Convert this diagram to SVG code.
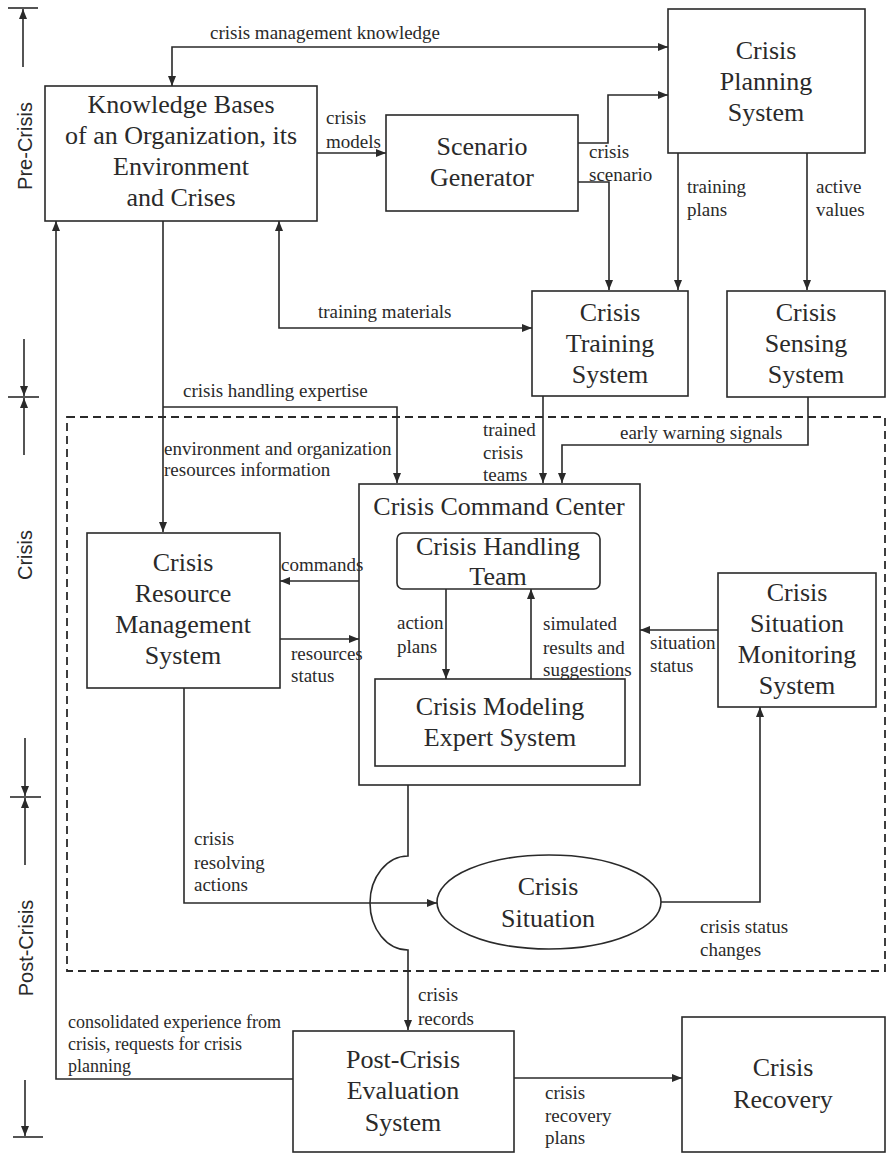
<svg xmlns="http://www.w3.org/2000/svg" width="888" height="1153" viewBox="0 0 888 1153" font-family="Liberation Serif, serif">
<defs>
<marker id="arr" viewBox="0 0 10 8" refX="10" refY="4" markerWidth="11" markerHeight="8" markerUnits="userSpaceOnUse" orient="auto-start-reverse">
<path d="M0,0 L10,4 L0,8 z" fill="#2a2a2a"/>
</marker>
</defs>
<style>
.box{fill:none;stroke:#2a2a2a;stroke-width:1.6}
.ln{fill:none;stroke:#2a2a2a;stroke-width:1.6}
.big{font-family:'Liberation Serif','DejaVu Serif',serif;font-size:26px;fill:#2a2a2a;text-anchor:middle}
.lbl{font-family:'Liberation Serif','DejaVu Serif',serif;font-size:19px;fill:#2a2a2a}
.ax{font-family:'Liberation Sans',Arial,sans-serif;font-size:20px;fill:#2a2a2a;text-anchor:middle}
.dash{fill:none;stroke:#2a2a2a;stroke-width:1.8;stroke-dasharray:8 5}
</style>
<rect width="888" height="1153" fill="#ffffff"/>

<g id="axis">
<line class="ln" x1="8" y1="8" x2="38" y2="8"/>
<line class="ln" x1="23" y1="67" x2="23" y2="9" marker-end="url(#arr)"/>
<text class="ax" transform="translate(32,146) rotate(-90)">Pre-Crisis</text>
<line class="ln" x1="8" y1="397" x2="39" y2="397"/>
<line class="ln" x1="24" y1="339" x2="24" y2="396" marker-end="url(#arr)"/>
<line class="ln" x1="24" y1="455" x2="24" y2="398" marker-end="url(#arr)"/>
<text class="ax" transform="translate(32,555) rotate(-90)">Crisis</text>
<line class="ln" x1="10" y1="797" x2="41" y2="797"/>
<line class="ln" x1="25" y1="738" x2="25" y2="796" marker-end="url(#arr)"/>
<line class="ln" x1="25" y1="865" x2="25" y2="798" marker-end="url(#arr)"/>
<text class="ax" transform="translate(33,948) rotate(-90)">Post-Crisis</text>
<line class="ln" x1="25" y1="1080" x2="25" y2="1136" marker-end="url(#arr)"/>
<line class="ln" x1="13" y1="1137" x2="43" y2="1137"/>
</g>

<rect id="crisis-phase" class="dash" x="67" y="417" width="818" height="554"/>

<g id="knowledge-bases">
<rect class="box" x="45" y="86" width="272" height="135"/>
<text class="big" x="181" y="113">Knowledge Bases</text>
<text class="big" x="181" y="144">of an Organization, its</text>
<text class="big" x="181" y="175">Environment</text>
<text class="big" x="181" y="206">and Crises</text>
</g>

<g id="scenario-generator">
<rect class="box" x="386" y="115" width="192" height="96"/>
<text class="big" x="482" y="155">Scenario</text>
<text class="big" x="482" y="186">Generator</text>
</g>

<g id="crisis-planning">
<rect class="box" x="668" y="9" width="197" height="144"/>
<text class="big" x="766" y="59">Crisis</text>
<text class="big" x="766" y="90">Planning</text>
<text class="big" x="766" y="121">System</text>
</g>

<g id="crisis-training">
<rect class="box" x="532" y="291" width="156" height="105"/>
<text class="big" x="610" y="321">Crisis</text>
<text class="big" x="610" y="352">Training</text>
<text class="big" x="610" y="383">System</text>
</g>

<g id="crisis-sensing">
<rect class="box" x="727" y="291" width="158" height="106"/>
<text class="big" x="806" y="321">Crisis</text>
<text class="big" x="806" y="352">Sensing</text>
<text class="big" x="806" y="383">System</text>
</g>

<g id="crisis-command-center">
<rect class="box" x="359" y="484" width="281" height="301"/>
<text class="big" x="499" y="515">Crisis Command Center</text>
</g>

<g id="crisis-handling-team">
<rect class="box" x="397" y="533" width="203" height="56" rx="6"/>
<text class="big" x="498" y="555">Crisis Handling</text>
<text class="big" x="498" y="585">Team</text>
</g>

<g id="crisis-modeling">
<rect class="box" x="375" y="679" width="250" height="87"/>
<text class="big" x="500" y="715">Crisis Modeling</text>
<text class="big" x="500" y="746">Expert System</text>
</g>

<g id="crisis-monitoring">
<rect class="box" x="718" y="573" width="158" height="134"/>
<text class="big" x="797" y="601">Crisis</text>
<text class="big" x="797" y="632">Situation</text>
<text class="big" x="797" y="663">Monitoring</text>
<text class="big" x="797" y="694">System</text>
</g>

<g id="crisis-resource">
<rect class="box" x="87" y="533" width="193" height="155"/>
<text class="big" x="183" y="571">Crisis</text>
<text class="big" x="183" y="602">Resource</text>
<text class="big" x="183" y="633">Management</text>
<text class="big" x="183" y="664">System</text>
</g>

<g id="crisis-situation">
<ellipse class="box" cx="549" cy="902" rx="112" ry="47"/>
<text class="big" x="548" y="895">Crisis</text>
<text class="big" x="548" y="927">Situation</text>
</g>

<g id="post-crisis-evaluation">
<rect class="box" x="293" y="1031" width="221" height="121"/>
<text class="big" x="403" y="1068">Post-Crisis</text>
<text class="big" x="403" y="1099">Evaluation</text>
<text class="big" x="403" y="1131">System</text>
</g>

<g id="crisis-recovery">
<rect class="box" x="682" y="1017" width="203" height="135"/>
<text class="big" x="783" y="1076">Crisis</text>
<text class="big" x="783" y="1108">Recovery</text>
</g>

<g id="connectors">
<path class="ln" d="M172,86 V47 H668" marker-start="url(#arr)" marker-end="url(#arr)"/>
<path class="ln" d="M317,153 H386" marker-end="url(#arr)"/>
<path class="ln" d="M578,143 H608 V95 H668" marker-end="url(#arr)"/>
<path class="ln" d="M578,182 H609 V290" marker-end="url(#arr)"/>
<path class="ln" d="M678,153 V290" marker-end="url(#arr)"/>
<path class="ln" d="M807,153 V290" marker-end="url(#arr)"/>
<path class="ln" d="M293,1079 H56 V221" marker-end="url(#arr)"/>
<path class="ln" d="M163,221 V532" marker-end="url(#arr)"/>
<path class="ln" d="M163,407 H397 V483" marker-end="url(#arr)"/>
<path class="ln" d="M279,221 V328 H532" marker-start="url(#arr)" marker-end="url(#arr)"/>
<path class="ln" d="M543,396 V483" marker-end="url(#arr)"/>
<path class="ln" d="M808,397 V445 H562 V483" marker-end="url(#arr)"/>
<path class="ln" d="M359,581 H280" marker-end="url(#arr)"/>
<path class="ln" d="M280,639 H359" marker-end="url(#arr)"/>
<path class="ln" d="M446,589 V679" marker-end="url(#arr)"/>
<path class="ln" d="M531,679 V589" marker-end="url(#arr)"/>
<path class="ln" d="M718,630 H640" marker-end="url(#arr)"/>
<path class="ln" d="M184,688 V903 H437" marker-end="url(#arr)"/>
<path class="ln" d="M661,902 H760 V707" marker-end="url(#arr)"/>
<path class="ln" d="M408,785 V856 A38,47 0 0 0 408,950 V1030" marker-end="url(#arr)"/>
<path class="ln" d="M514,1078 H682" marker-end="url(#arr)"/>

<text class="lbl" x="210" y="39">crisis management knowledge</text>
<text class="lbl" x="326" y="124">crisis</text>
<text class="lbl" x="326" y="148">models</text>
<text class="lbl" x="589" y="158">crisis</text>
<text class="lbl" x="589" y="181">scenario</text>
<text class="lbl" x="687" y="193">training</text>
<text class="lbl" x="687" y="216">plans</text>
<text class="lbl" x="816" y="193">active</text>
<text class="lbl" x="816" y="216">values</text>
<text class="lbl" x="318" y="318">training materials</text>
<text class="lbl" x="183" y="397">crisis handling expertise</text>
<text class="lbl" x="164" y="455">environment and organization</text>
<text class="lbl" x="164" y="476">resources information</text>
<text class="lbl" x="483" y="436">trained</text>
<text class="lbl" x="483" y="459">crisis</text>
<text class="lbl" x="483" y="481">teams</text>
<text class="lbl" x="620" y="439">early warning signals</text>
<text class="lbl" x="281" y="571">commands</text>
<text class="lbl" x="291" y="660">resources</text>
<text class="lbl" x="291" y="682">status</text>
<text class="lbl" x="397" y="629">action</text>
<text class="lbl" x="397" y="653">plans</text>
<text class="lbl" x="543" y="630">simulated</text>
<text class="lbl" x="543" y="654">results and</text>
<text class="lbl" x="543" y="676">suggestions</text>
<text class="lbl" x="650" y="649">situation</text>
<text class="lbl" x="650" y="672">status</text>
<text class="lbl" x="194" y="845">crisis</text>
<text class="lbl" x="194" y="869">resolving</text>
<text class="lbl" x="194" y="891">actions</text>
<text class="lbl" x="700" y="933">crisis status</text>
<text class="lbl" x="700" y="956">changes</text>
<text class="lbl" x="418" y="1001">crisis</text>
<text class="lbl" x="418" y="1025">records</text>
<text class="lbl" x="68" y="1028" style="font-size:18px">consolidated experience from</text>
<text class="lbl" x="68" y="1050" style="font-size:18px">crisis, requests for crisis</text>
<text class="lbl" x="68" y="1072" style="font-size:18px">planning</text>
<text class="lbl" x="545" y="1099">crisis</text>
<text class="lbl" x="545" y="1122">recovery</text>
<text class="lbl" x="545" y="1144">plans</text>
</g>
</svg>
